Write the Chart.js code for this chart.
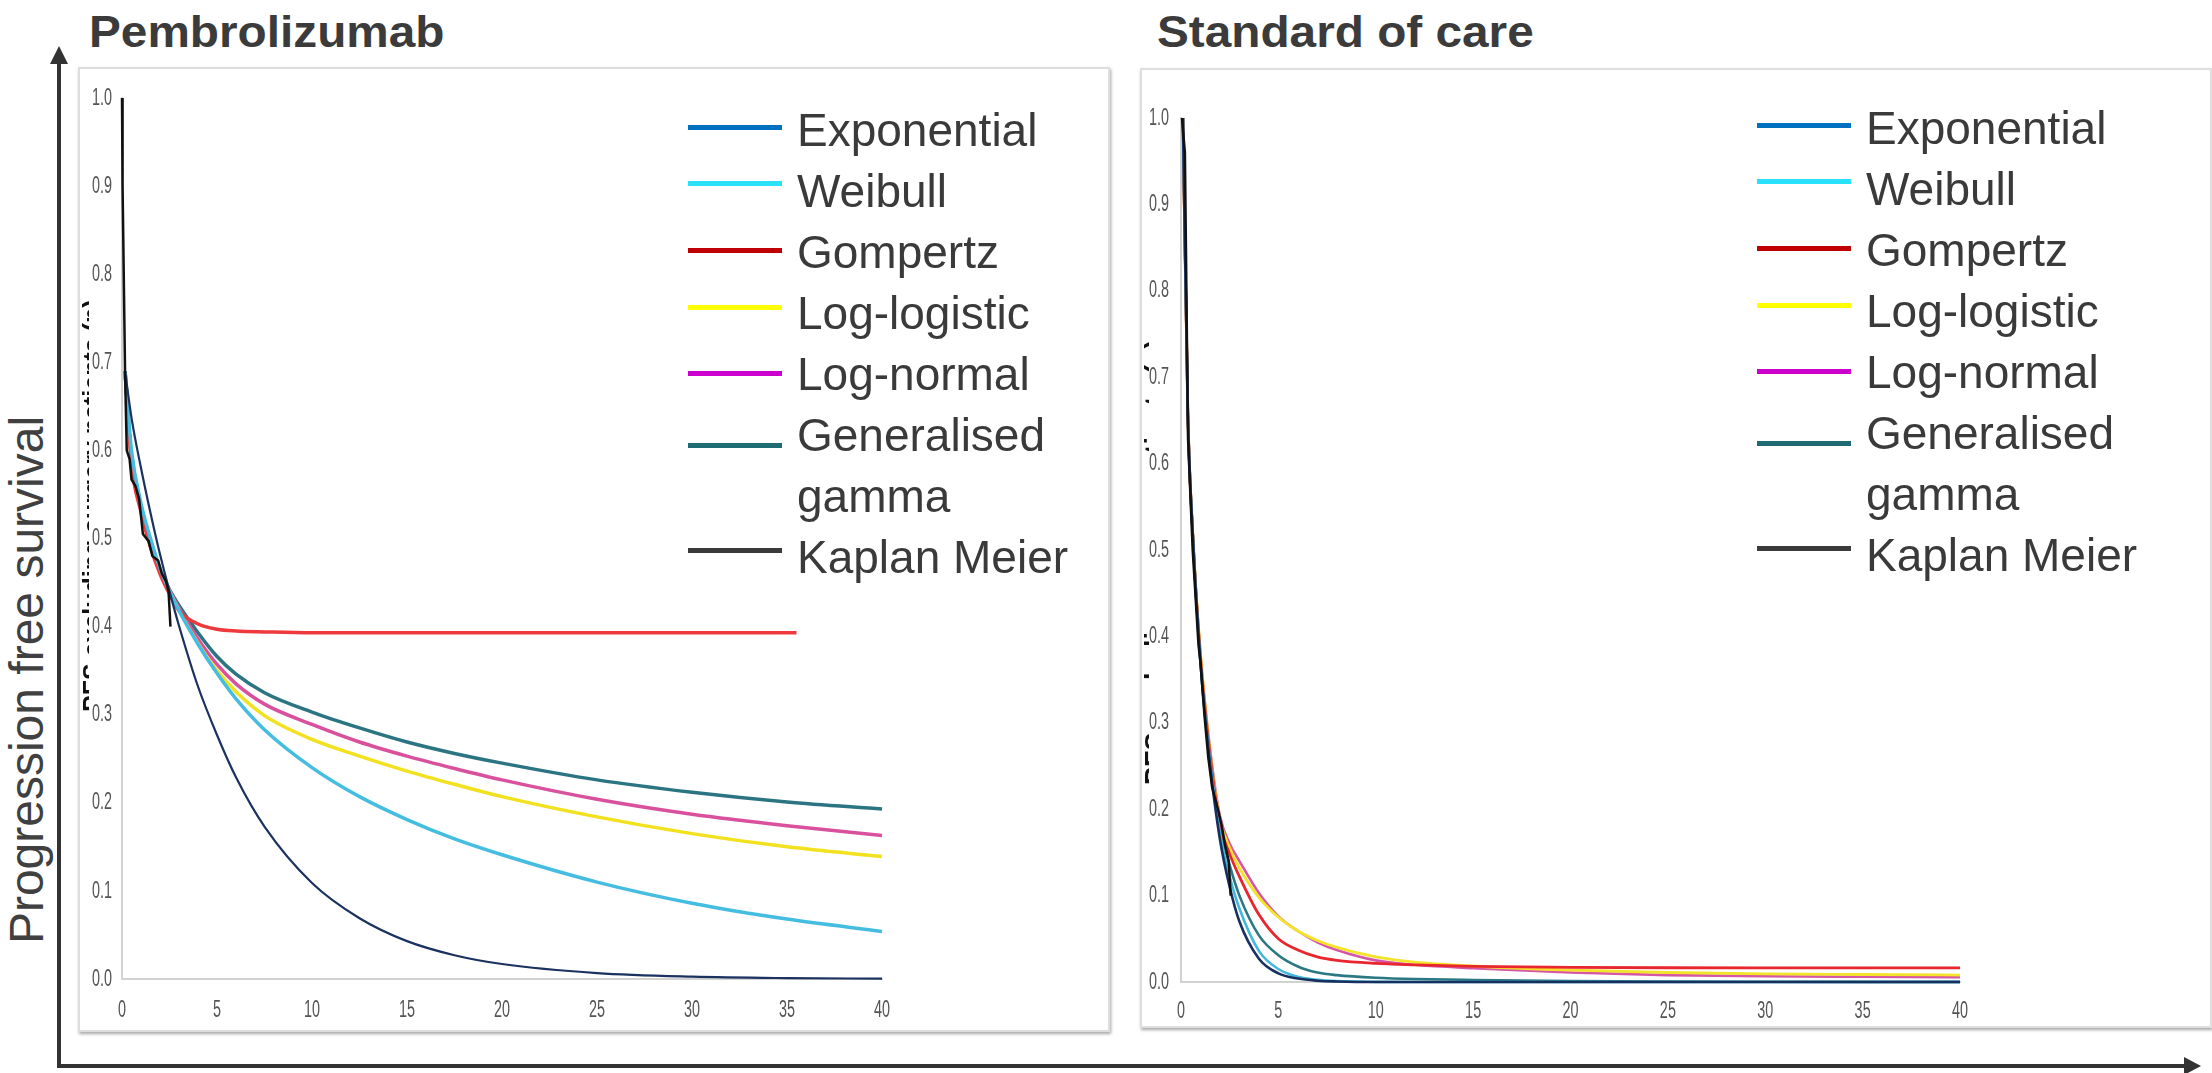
<!DOCTYPE html>
<html>
<head>
<meta charset="utf-8">
<script src="https://cdn.jsdelivr.net/npm/chart.js@4.4.1/dist/chart.umd.min.js"></script>
<style>
  html, body { margin:0; padding:0; background:#fff; }
  body { width:2212px; height:1073px; position:relative; overflow:hidden; font-family:'Liberation Sans', Arial, sans-serif; }
  .title { position:absolute; top:10px; font-weight:bold; color:#3b3b3b; font-size:44px; line-height:1; white-space:nowrap; transform:scaleX(1.085); transform-origin:0 0; }
  .box { position:absolute; box-sizing:border-box; background:#fff; border:2px solid #dedede; box-shadow:1px 2px 3px rgba(0,0,0,0.35); overflow:hidden; }
  .box canvas { position:absolute; left:0; top:0; }
  .ghost { position:absolute; overflow:hidden; }
  .ghost span { position:absolute; left:0; font-weight:bold; color:#111; white-space:nowrap; transform:rotate(-90deg); transform-origin:0 0; }
  .legend { position:absolute; color:#3a3a3a; font-size:46px; line-height:61px; }
  .legend .item { display:flex; align-items:flex-start; }
  .legend .sw { width:94px; height:5px; margin-right:15px; flex:none; }
  .legend .txt { width:320px; }
  #ylab { position:absolute; left:27px; top:680px; font-size:48px; line-height:1; color:#404040; white-space:nowrap; transform:translate(-50%,-50%) rotate(-90deg); }
  svg { position:absolute; left:0; top:0; }
</style>
</head>
<body>
<div class="title" style="left:89px">Pembrolizumab</div>
<div class="title" style="left:1157px">Standard of care</div>
<div id="ylab">Progression free survival</div>

<div class="box" style="left:78px;top:67px;width:1032px;height:965px">
  <canvas id="pembroChart" width="1028" height="961"></canvas>
</div>
<div class="box" style="left:1140px;top:68px;width:1072px;height:960px">
  <canvas id="socChart" width="1068" height="956"></canvas>
</div>

<div class="ghost" style="left:80px;top:290px;width:9px;height:440px"><span style="top:422px;font-size:25px;line-height:25px">PFS excluding surgery patients (p)</span></div>
<div class="ghost" style="left:1142px;top:295px;width:7px;height:500px"><span style="top:490px;font-size:27px;line-height:27px">PFS excluding surgery patients (p)</span></div>

<div class="legend" id="pembroLegend" style="left:688px;top:100px"></div>
<div class="legend" id="socLegend" style="left:1757px;top:98px"></div>

<svg width="2212" height="1073">
  <line x1="59" y1="1066" x2="59" y2="60" stroke="#333" stroke-width="4"/>
  <polygon points="59,46 50,64 68,64" fill="#333"/>
  <line x1="57" y1="1066" x2="2186" y2="1066" stroke="#333" stroke-width="4"/>
  <polygon points="2201,1066 2184,1057 2184,1075" fill="#333"/>
</svg>

<script>
// model names, legend order
const modelNames = ['Exponential', 'Weibull', 'Gompertz', 'Log-logistic', 'Log-normal', 'Generalised gamma', 'Kaplan Meier'];
const xTickValues = [0, 5, 10, 15, 20, 25, 30, 35, 40];
const yTickValues = [0, 0.1, 0.2, 0.3, 0.4, 0.5, 0.6, 0.7, 0.8, 0.9, 1.0];

// Pembrolizumab (months -> PFS)
const pembroTimes = [0.16, 0.5, 1, 1.5, 2, 2.5, 3, 4, 5, 6, 7.5, 10, 12.5, 15, 17.5, 20, 25, 30, 35, 40];
const pembroExponential = [0.69, 0.637, 0.58, 0.529, 0.482, 0.44, 0.401, 0.332, 0.277, 0.229, 0.173, 0.109, 0.069, 0.043, 0.027, 0.017, 0.0067, 0.0026, 0.001, 0.0004];
const pembroWeibull = [0.69, 0.60, 0.54, 0.50, 0.466, 0.44, 0.418, 0.38, 0.347, 0.318, 0.283, 0.240, 0.207, 0.181, 0.159, 0.141, 0.110, 0.086, 0.068, 0.054];
const pembroLogLogistic = [0.69, 0.59, 0.535, 0.495, 0.463, 0.44, 0.418, 0.381, 0.350, 0.326, 0.299, 0.272, 0.253, 0.236, 0.221, 0.207, 0.184, 0.165, 0.150, 0.139];
const pembroLogNormal = [0.69, 0.59, 0.535, 0.495, 0.464, 0.441, 0.421, 0.386, 0.357, 0.335, 0.312, 0.289, 0.269, 0.253, 0.239, 0.226, 0.204, 0.187, 0.174, 0.163];
const pembroGenGamma = [0.69, 0.59, 0.535, 0.495, 0.465, 0.442, 0.424, 0.393, 0.366, 0.346, 0.325, 0.303, 0.285, 0.269, 0.256, 0.245, 0.226, 0.212, 0.201, 0.193];
const pembroGompertzTimes = [0.16, 0.5, 1, 1.5, 2, 2.5, 3, 4, 5, 6, 7.5, 10, 15, 20, 25, 30, 35.5];
const pembroGompertz = [0.69, 0.585, 0.53, 0.49, 0.46, 0.437, 0.418, 0.403, 0.397, 0.395, 0.394, 0.393, 0.393, 0.393, 0.393, 0.393, 0.393];
const pembroKmTimes = [0, 0.03, 0.16, 0.25, 0.4, 0.5, 0.7, 0.9, 1.0, 1.1, 1.4, 1.6, 1.9, 2.1, 2.3, 2.45, 2.55];
const pembroKm = [1.0, 0.9, 0.69, 0.60, 0.59, 0.567, 0.56, 0.545, 0.525, 0.505, 0.497, 0.48, 0.475, 0.46, 0.452, 0.44, 0.40];

// Standard of care
const socTimes = [0.1, 0.35, 0.6, 1, 1.5, 2, 2.5, 3, 4, 5, 6, 7, 8, 10, 12, 15, 20, 25, 30, 35, 40];
const socExponential = [1.0, 0.66, 0.52, 0.37, 0.25, 0.165, 0.11, 0.07, 0.027, 0.010, 0.004, 0.0015, 0.0006, 0, 0, 0, 0, 0, 0, 0, 0];
const socWeibull = [1.0, 0.66, 0.52, 0.37, 0.255, 0.172, 0.122, 0.085, 0.036, 0.015, 0.006, 0.0025, 0.001, 0.0002, 0, 0, 0, 0, 0, 0, 0];
const socGompertz = [1.0, 0.66, 0.52, 0.375, 0.262, 0.182, 0.148, 0.122, 0.078, 0.050, 0.037, 0.029, 0.025, 0.0215, 0.0198, 0.018, 0.017, 0.0165, 0.0163, 0.0163, 0.0163];
const socLogLogistic = [1.0, 0.66, 0.52, 0.38, 0.265, 0.188, 0.155, 0.132, 0.098, 0.075, 0.059, 0.048, 0.040, 0.029, 0.023, 0.0185, 0.0137, 0.011, 0.0095, 0.0087, 0.008];
const socLogNormal = [1.0, 0.66, 0.52, 0.38, 0.268, 0.192, 0.160, 0.140, 0.103, 0.076, 0.059, 0.046, 0.037, 0.025, 0.020, 0.016, 0.011, 0.008, 0.0066, 0.006, 0.0055];
const socGenGamma = [1.0, 0.66, 0.52, 0.375, 0.26, 0.178, 0.135, 0.100, 0.054, 0.031, 0.018, 0.011, 0.008, 0.005, 0.0035, 0.0024, 0.0012, 0.0006, 0.0003, 0.0002, 0.0001];
const socKmTimes = [0.05, 0.2, 0.36, 0.6, 0.9, 1.0, 1.2, 1.4, 1.6, 1.9, 2.1, 2.25, 2.45, 2.55];
const socKm = [1.0, 0.96, 0.63, 0.50, 0.39, 0.37, 0.31, 0.26, 0.225, 0.20, 0.18, 0.16, 0.14, 0.10];

// colours
const legendColors = ['#0070c0', '#29e1f8', '#c00000', '#ffff00', '#cc00cc', '#1f6b73', '#3a3a3a'];
const pembroColors = ['#1b3160', '#45bde0', '#ee3a3c', '#f2e11e', '#d9519c', '#2b7482'];
const socColors = ['#17305f', '#44b8dc', '#e8262e', '#f3e32a', '#d656a6', '#2a7884'];
const swatchTop = [25, 20, 26, 22, 27, 38, 21];

// tick labels in the original are squeezed horizontally, so draw them narrowed
const narrowTicks = {
  id: 'narrowTicks',
  afterDraw(chart, args, opts) {
    const ctx = chart.ctx, area = chart.chartArea;
    const xs = chart.scales.x, ys = chart.scales.y;
    ctx.save();
    ctx.fillStyle = '#555';
    ctx.font = "24px 'Liberation Sans', Arial, sans-serif";
    ctx.textBaseline = 'middle';
    yTickValues.forEach(v => {
      ctx.save();
      ctx.translate(area.left - opts.yPad, ys.getPixelForValue(v));
      ctx.scale(0.6, 1);
      ctx.textAlign = 'right';
      ctx.fillText(v.toFixed(1), 0, 0);
      ctx.restore();
    });
    xTickValues.forEach(v => {
      ctx.save();
      ctx.translate(xs.getPixelForValue(v), area.bottom + opts.xOff);
      ctx.scale(0.6, 1);
      ctx.textAlign = 'center';
      ctx.fillText(String(v), 0, 0);
      ctx.restore();
    });
    ctx.restore();
  }
};

function pts(ts, vs) { return ts.map((t, i) => ({ x: t, y: vs[i] })); }

function buildChart(id, series, km, colors, widths, box) {
  const datasets = series.map((s, i) => ({
    label: modelNames[i],
    data: pts(s[0], s[1]),
    borderColor: colors[i],
    borderWidth: widths[i],
    pointRadius: 0,
    fill: false,
    cubicInterpolationMode: 'monotone',
    clip: false
  }));
  datasets.push({ label: 'Kaplan Meier', data: pts(km[0], km[1]), borderColor: '#111', borderWidth: 2.5, pointRadius: 0, tension: 0, fill: false, order: -1, clip: false });
  return new Chart(document.getElementById(id), {
    type: 'line',
    data: { datasets },
    plugins: [narrowTicks],
    options: {
      responsive: false,
      animation: false,
      layout: { padding: { top: box.top, right: box.right, left: 0, bottom: 0 } },
      plugins: { legend: { display: false }, tooltip: { enabled: false }, narrowTicks: { yPad: box.yPad, xOff: box.xOff } },
      scales: {
        x: {
          type: 'linear', min: 0, max: 40,
          grid: { display: false, drawTicks: false },
          border: { color: '#d2d2d2', width: 2 },
          ticks: { display: false },
          afterFit: s => { s.height = box.xH; }
        },
        y: {
          min: 0, max: 1,
          grid: { display: false, drawTicks: false },
          border: { color: '#d2d2d2', width: 2 },
          ticks: { display: false },
          afterFit: s => { s.width = box.yW; }
        }
      }
    }
  });
}

function buildLegend(id) {
  const el = document.getElementById(id);
  modelNames.forEach((name, i) => {
    const item = document.createElement('div');
    item.className = 'item';
    const sw = document.createElement('div');
    sw.className = 'sw';
    sw.style.background = legendColors[i];
    sw.style.marginTop = swatchTop[i] + 'px';
    const txt = document.createElement('div');
    txt.className = 'txt';
    txt.textContent = name;
    item.appendChild(sw); item.appendChild(txt);
    el.appendChild(item);
  });
}

buildChart('pembroChart',
  [[pembroTimes, pembroExponential], [pembroTimes, pembroWeibull], [pembroGompertzTimes, pembroGompertz],
   [pembroTimes, pembroLogLogistic], [pembroTimes, pembroLogNormal], [pembroTimes, pembroGenGamma]],
  [pembroKmTimes, pembroKm], pembroColors, [2.2, 3.5, 3.5, 3.5, 3.5, 3.5],
  { top: 29, right: 226, yW: 42, xH: 51, xOff: 31, yPad: 10 });

buildChart('socChart',
  [[socTimes, socExponential], [socTimes, socWeibull], [socTimes, socGompertz],
   [socTimes, socLogLogistic], [socTimes, socLogNormal], [socTimes, socGenGamma]],
  [socKmTimes, socKm], socColors, [2.6, 2.6, 2.8, 2.8, 2.6, 2.6],
  { top: 48, right: 250, yW: 39, xH: 44, xOff: 29, yPad: 12 });

buildLegend('pembroLegend');
buildLegend('socLegend');
</script>
</body>
</html>
